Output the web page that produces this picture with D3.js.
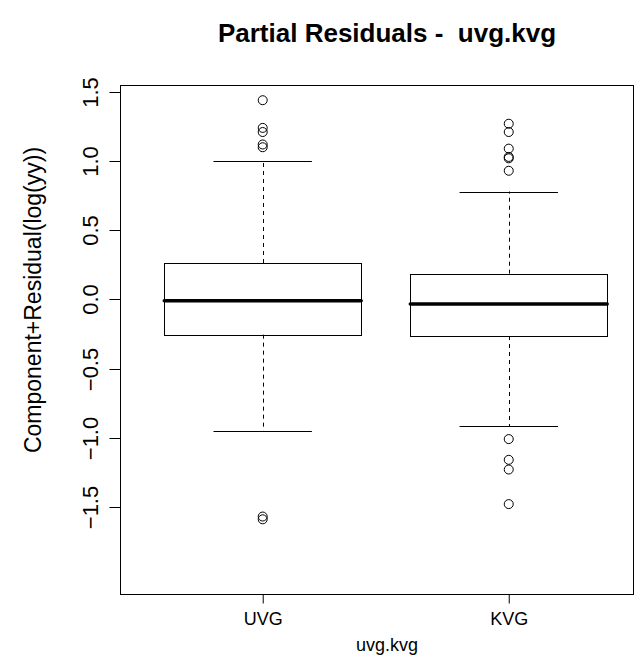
<!DOCTYPE html>
<html>
<head>
<meta charset="utf-8">
<title>Partial Residuals</title>
<style>
    body { margin: 0; background: #fff; }
    svg text { font-family: "Liberation Sans", Arial, sans-serif; fill: #000; }
</style>
</head>
<body>
<svg width="641" height="656"></svg>
<script src="https://d3js.org/d3.v7.min.js"></script>
<script>

    // box summaries
    var categories = ["UVG", "KVG"];
    var q1 = [-0.255, -0.265];
    var medians = [-0.01, -0.033];
    var q3 = [0.263, 0.186];
    var whiskerLow = [-0.95, -0.915];
    var whiskerHigh = [1.0, 0.78];
    var outliers = [
        [1.44, 1.24, 1.21, 1.12, 1.10, -1.57, -1.59],
        [1.27, 1.21, 1.09, 1.03, 1.02, 0.93, -1.01, -1.16, -1.23, -1.48]
    ];
    var yTicks = [-1.5, -1.0, -0.5, 0.0, 0.5, 1.0, 1.5];

    var svg = d3.select("svg"),
        plotLeft = 120, plotRight = 633, plotTop = 85, plotBottom = 594;

    var x = d3.scaleLinear().domain([0.42, 2.505]).range([plotLeft, plotRight]);
    var y = d3.scaleLinear().domain([-2.13, 1.55]).range([plotBottom, plotTop]);

    var boxHalf = x(1.4) - x(1),       // box width 0.8
        capHalf = boxHalf / 2;

    var data = categories.map(function (c, i) {
        return {name: c, pos: i + 1, q1: q1[i], med: medians[i], q3: q3[i],
            lo: whiskerLow[i], hi: whiskerHigh[i], out: outliers[i]};
    });

    var px = function (v) { return Math.round(v) + 0.5; };

    var box = svg.append("g").selectAll("g.box")
        .data(data)
        .enter().append("g")
        .attr("class", "box");

    // whiskers (dashed)
    box.append("line")
        .attr("x1", function (d) { return px(x(d.pos)); })
        .attr("x2", function (d) { return px(x(d.pos)); })
        .attr("y1", function (d) { return y(d.q3); })
        .attr("y2", function (d) { return y(d.hi); })
        .attr("stroke", "#000").attr("stroke-dasharray", "4,4");
    box.append("line")
        .attr("x1", function (d) { return px(x(d.pos)); })
        .attr("x2", function (d) { return px(x(d.pos)); })
        .attr("y1", function (d) { return y(d.q1); })
        .attr("y2", function (d) { return y(d.lo); })
        .attr("stroke", "#000").attr("stroke-dasharray", "4,4");

    // staples
    ["hi", "lo"].forEach(function (k) {
        box.append("line")
            .attr("x1", function (d) { return x(d.pos) - capHalf; })
            .attr("x2", function (d) { return x(d.pos) + capHalf; })
            .attr("y1", function (d) { return px(y(d[k])); })
            .attr("y2", function (d) { return px(y(d[k])); })
            .attr("stroke", "#000");
    });

    // boxes
    box.append("rect")
        .attr("x", function (d) { return px(x(d.pos) - boxHalf); })
        .attr("y", function (d) { return px(y(d.q3)); })
        .attr("width", Math.round(2 * boxHalf))
        .attr("height", function (d) { return Math.round(y(d.q1) - y(d.q3)); })
        .attr("fill", "none")
        .attr("stroke", "#000");

    // medians
    box.append("line")
        .attr("x1", function (d) { return x(d.pos) - boxHalf; })
        .attr("x2", function (d) { return x(d.pos) + boxHalf; })
        .attr("y1", function (d) { return y(d.med); })
        .attr("y2", function (d) { return y(d.med); })
        .attr("stroke", "#000").attr("stroke-width", 3.5)
        .attr("stroke-linecap", "round");

    // outliers
    box.selectAll("circle")
        .data(function (d) {
            return d.out.map(function (v) { return {pos: d.pos, v: v}; });
        })
        .enter().append("circle")
        .attr("cx", function (d) { return x(d.pos); })
        .attr("cy", function (d) { return y(d.v); })
        .attr("r", 4.5)
        .attr("fill", "none")
        .attr("stroke", "#000");

    // frame
    svg.append("rect")
        .attr("x", plotLeft + 0.5).attr("y", plotTop + 0.5)
        .attr("width", plotRight - plotLeft).attr("height", plotBottom - plotTop)
        .attr("fill", "none").attr("stroke", "#000");

    // y axis, labels turned parallel to the axis
    var yAxis = svg.append("g")
        .attr("transform", "translate(" + (plotLeft + 0.5) + ",0)")
        .call(d3.axisLeft(y).tickValues(yTicks).tickSize(11)
            .tickFormat(d3.format(".1f")));
    yAxis.select(".domain").remove();
    yAxis.selectAll(".tick").attr("transform", function (d) { return "translate(0," + px(y(d)) + ")"; });
    yAxis.selectAll(".tick text")
        .attr("font-size", 22)
        .attr("text-anchor", "middle")
        .attr("x", 0).attr("y", 0).attr("dy", "0.36em")
        .attr("transform", "translate(-30,0) rotate(-90)");

    var xAxis = svg.append("g")
        .attr("transform", "translate(0," + (plotBottom + 0.5) + ")")
        .call(d3.axisBottom(x).tickValues([1, 2]).tickSize(9).tickPadding(9)
            .tickFormat(function (d) { return categories[d - 1]; }));
    xAxis.select(".domain").remove();
    xAxis.selectAll("text").attr("font-size", 18);

    svg.selectAll(".tick line").attr("stroke", "#000");

    // titles
    svg.append("text")
        .attr("x", 387).attr("y", 42)
        .attr("text-anchor", "middle")
        .attr("font-size", 26)
        .attr("font-weight", "bold")
        .style("white-space", "pre")
        .text("Partial Residuals -  uvg.kvg");

    svg.append("text")
        .attr("x", 387).attr("y", 651)
        .attr("text-anchor", "middle")
        .attr("font-size", 18)
        .text("uvg.kvg");

    svg.append("text")
        .attr("transform", "translate(41,300) rotate(-90)")
        .attr("text-anchor", "middle")
        .attr("font-size", 23)
        .text("Component+Residual(log(yy))");

</script>
</body>
</html>
